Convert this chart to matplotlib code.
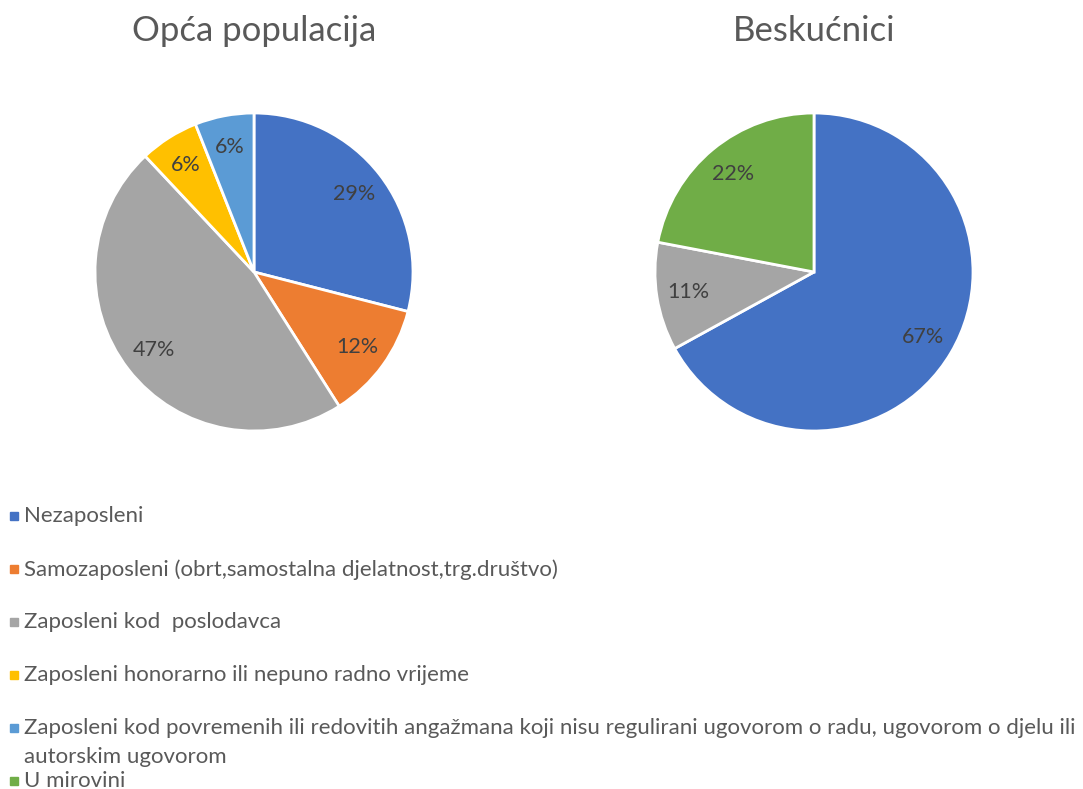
import matplotlib
matplotlib.use('Agg')
import matplotlib.pyplot as plt
from matplotlib.patches import Rectangle

plt.rcParams['font.family'] = ['Lato', 'DejaVu Sans']

# data
categories = [
    'Nezaposleni',
    'Samozaposleni (obrt,samostalna djelatnost,trg.društvo)',
    'Zaposleni kod  poslodavca',
    'Zaposleni honorarno ili nepuno radno vrijeme',
    'Zaposleni kod povremenih ili redovitih angažmana koji nisu regulirani ugovorom o radu, ugovorom o djelu ili\nautorskim ugovorom',
    'U mirovini',
]
colors = ['#4472C4', '#ED7D31', '#A5A5A5', '#FFC000', '#5B9BD5', '#70AD47']

titles = ['Opća populacija', 'Beskućnici']
opca_values = [29, 12, 47, 6, 6, 0]
beskucnici_values = [67, 0, 11, 0, 0, 22]

W, H = 1083, 789
fig = plt.figure(figsize=(W / 100, H / 100), dpi=100)


def px_axes(x0, y0, x1, y1):
    # pixel box (top-left origin) -> figure axes
    return fig.add_axes([x0 / W, 1 - y1 / H, (x1 - x0) / W, (y1 - y0) / H])


boxes = [(95, 113, 413, 431), (655, 113, 973, 431)]
for box, title, vals in zip(boxes, titles, [opca_values, beskucnici_values]):
    ax = px_axes(*box)
    v = [x for x in vals if x > 0]
    c = [col for x, col in zip(vals, colors) if x > 0]
    wedges, texts, autotexts = ax.pie(
        v, colors=c, startangle=90, counterclock=False,
        autopct='%1.0f%%', pctdistance=0.8,
        wedgeprops=dict(edgecolor='white', linewidth=2),
        textprops=dict(color='#404040', fontsize=15.5))
    ax.set_xlim(-1, 1)
    ax.set_ylim(-1, 1)
    ax.set_aspect('equal')
    cx = (box[0] + box[2]) / 2
    fig.text(cx / W, 1 - 31 / H, title, ha='center', va='center',
             fontsize=25, color='#595959')

# legend drawn by hand so the wrapped entry matches
row0 = 516
step = 53
for i, (lab, col) in enumerate(zip(categories, colors)):
    yc = row0 + i * step
    fig.patches.append(Rectangle((10 / W, 1 - (yc + 4) / H), 8 / W, 8 / H,
                                 transform=fig.transFigure, color=col))
    fig.text(24 / W, 1 - (yc - 10) / H, lab, ha='left', va='top',
             fontsize=16, color='#595959', linespacing=1.55)

fig.savefig('out.png', dpi=100)
